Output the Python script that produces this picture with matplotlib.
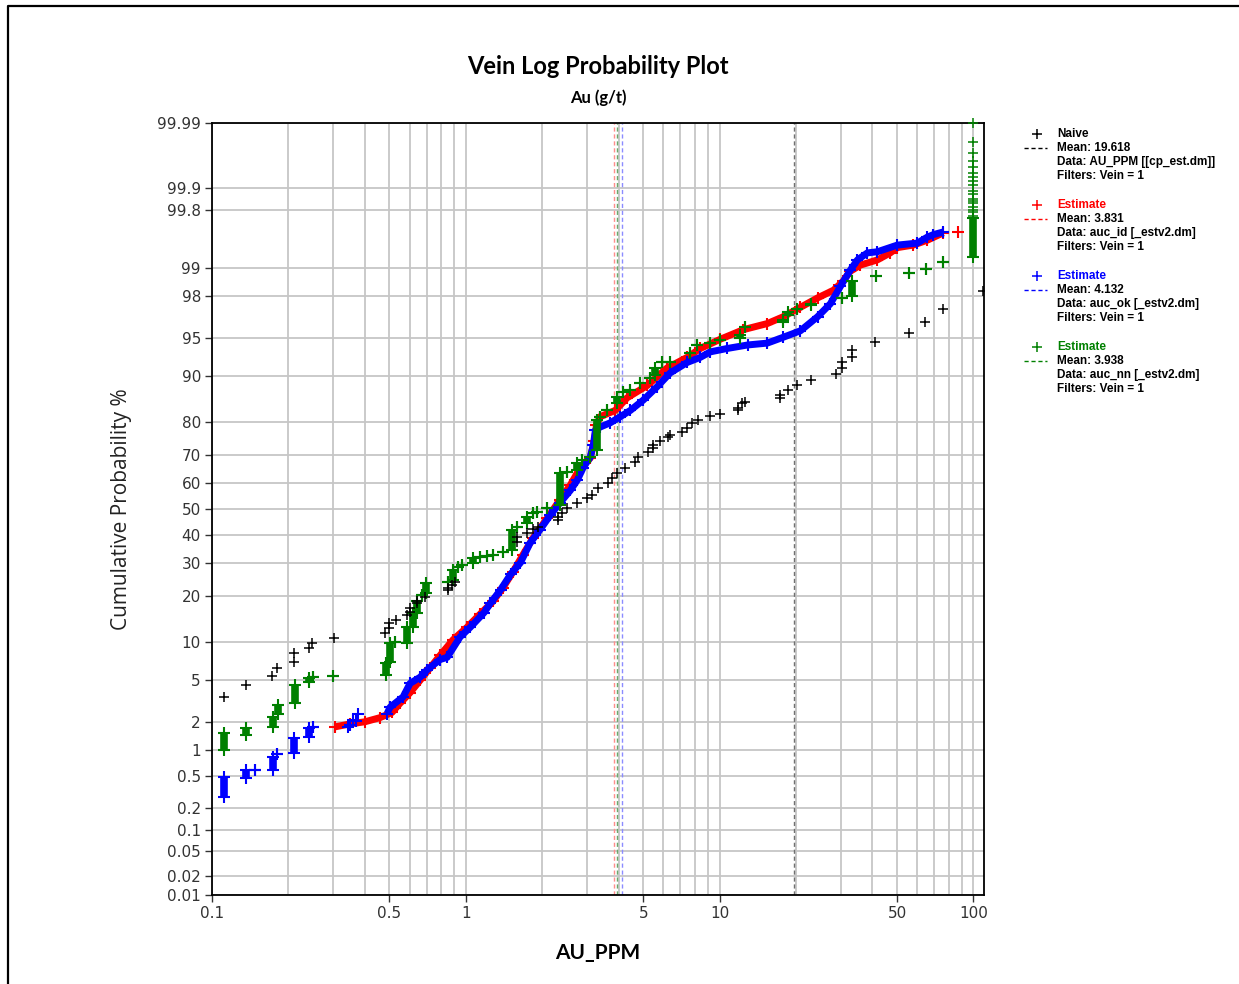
import matplotlib
matplotlib.use("Agg")
import matplotlib.pyplot as plt
from matplotlib.lines import Line2D
from matplotlib.ticker import FixedLocator, FixedFormatter, NullFormatter
import numpy as np
from statistics import NormalDist

# --- data: grade (g/t) vs cumulative probability (%) ---
naive_x = [0.1115, 0.136, 0.172, 0.180, 0.210, 0.210, 0.241, 0.248, 0.303, 0.481,
           0.499, 0.499, 0.531, 0.587, 0.603, 0.603, 0.643, 0.643, 0.691, 0.851,
           0.851, 0.883, 0.907, 1.59, 1.59, 1.74, 1.84, 1.93, 2.31, 2.31,
           2.40, 2.51, 2.75, 3.01, 3.15, 3.32, 3.64, 3.78, 3.95, 4.25,
           4.65, 4.78, 5.23, 5.47, 5.47, 5.83, 6.27, 6.38, 7.12, 7.45,
           7.80, 8.24, 9.19, 10.05, 11.8, 11.8, 12.3, 12.6, 17.3, 17.3,
           18.6, 20.2, 22.8, 28.6, 30.4, 30.4, 33.3, 33.3, 41.0, 55.9,
           64.6, 76.0, 109.4]
naive_p = [3.51, 4.46, 5.37, 6.30, 7.08, 8.23, 9.01, 9.85, 10.7, 11.7,
           12.5, 13.6, 14.2, 15.4, 16.1, 17.1, 18.2, 18.9, 19.8, 21.8,
           22.4, 23.3, 24.2, 37.4, 39.4, 40.9, 42.5, 43.2, 45.6, 46.8,
           48.4, 50.4, 52.4, 54.4, 55.2, 57.9, 59.9, 61.8, 63.7, 65.5,
           67.4, 69.1, 70.9, 72.2, 73.2, 74.5, 75.5, 76.1, 77.0, 78.2,
           79.7, 80.5, 81.6, 82.1, 82.9, 83.4, 84.6, 84.8, 85.8, 86.4,
           87.5, 88.3, 89.3, 90.3, 91.3, 92.1, 92.8, 93.7, 94.6, 95.5,
           96.4, 97.3, 98.2]

id_x = [0.305, 0.350, 0.401, 0.459, 0.512, 0.551, 0.603, 0.661, 0.723, 0.792,
        0.891, 1.01, 1.14, 1.28, 1.40, 1.53, 1.68, 1.84, 2.09, 2.35,
        2.58, 2.82, 3.09, 3.21, 3.27, 3.38, 3.88, 4.32, 5.19, 6.21,
        7.45, 8.39, 10.05, 12.4, 15.4, 17.8, 20.8, 24.3, 28.1, 30.7,
        32.7, 35.8, 41.8, 47.0, 50.1, 57.9, 65.8, 76.0]
id_p = [1.79, 1.92, 2.02, 2.22, 2.50, 3.07, 3.84, 4.95, 6.30, 7.93,
        10.4, 12.7, 15.6, 18.7, 22.4, 27.1, 33.0, 39.0, 46.4, 53.6,
        59.1, 65.4, 68.8, 74.5, 79.1, 81.3, 82.9, 85.8, 88.3, 91.3,
        92.8, 93.9, 94.9, 95.8, 96.3, 96.8, 97.4, 97.9, 98.25, 98.6,
        98.9, 99.06, 99.18, 99.32, 99.41, 99.45, 99.52, 99.61]
id_single_x = [87.1]
id_single_p = [99.62]

ok_x = [0.490, 0.503, 0.566, 0.603, 0.661, 0.704, 0.792,
        0.844, 0.950, 1.04, 1.18, 1.25, 1.37, 1.50, 1.64, 1.79, 1.96,
        2.15, 2.35, 2.58, 2.75, 2.90, 3.09, 3.18, 3.24, 3.38, 3.71,
        4.06, 4.45, 5.00, 5.68, 6.38, 7.45, 8.39, 9.19, 10.7, 12.9,
        15.4, 17.8, 20.8, 24.3, 27.3, 29.9, 32.7, 34.9, 38.2, 41.8,
        50.1, 60.1, 65.8, 69.5, 76.0]
ok_p = [2.44, 2.81, 3.51, 4.65, 5.26, 6.06, 7.35,
        7.64, 10.9, 12.7, 15.9, 18.2, 21.8, 26.4, 30.2, 37.1, 42.1,
        47.6, 52.4, 57.1, 61.0, 65.5, 69.1, 73.2, 77.6, 78.5, 79.7,
        81.3, 82.9, 85.3, 88.1, 90.5, 92.1, 92.8, 93.5, 93.9, 94.3,
        94.5, 95.1, 95.7, 96.8, 97.6, 98.4, 98.93, 99.18, 99.32, 99.34,
        99.45, 99.48, 99.56, 99.59, 99.62]
ok_cluster_x = [0.344, 0.350, 0.360, 0.368, 0.376]
ok_cluster_p = [1.79, 1.85, 2.12, 2.05, 2.39]
# tied low grades (one column per value)
ok_tie_x = [0.1115, 0.136, 0.148, 0.174, 0.180, 0.2105, 0.241, 0.250]
ok_tie_lo = [0.28, 0.48, 0.60, 0.60, 0.91, 0.94, 1.39, 1.79]
ok_tie_hi = [0.49, 0.60, 0.60, 0.84, 0.91, 1.36, 1.74, 1.79]

nn_tie_x = [0.1115, 0.136, 0.174, 0.182, 0.212, 0.241, 0.250, 0.300, 0.485, 0.503,
            0.526, 0.587, 0.620, 0.643, 0.672, 0.697, 0.851, 0.891, 0.933, 0.967,
            1.07, 1.14, 1.21, 1.28, 1.40, 1.52, 1.59, 1.74, 1.84, 1.91,
            2.09, 2.35, 2.51, 2.75, 2.87, 3.09, 3.30, 3.38, 3.61, 3.95,
            4.17, 4.45, 4.86, 5.32, 5.57, 5.94, 6.38, 7.66, 8.17, 9.19,
            10.05, 12.0, 12.6, 17.7, 18.6, 20.2, 22.8, 30.4, 33.3, 41.4,
            55.9, 65.2, 76.0, 100.0]
nn_tie_lo = [1.02, 1.46, 1.79, 2.39, 3.07, 4.75, 5.26, 5.37, 5.48, 7.08,
             10.0, 9.85, 12.7, 15.9, 20.3, 20.9, 24.2, 24.8, 28.8, 29.5,
             30.2, 32.3, 32.6, 33.0, 34.1, 34.8, 43.2, 44.8, 48.4, 48.8,
             50.4, 51.6, 64.1, 64.8, 68.1, 69.1, 71.6, 81.1, 82.9, 84.6,
             87.1, 87.5, 88.7, 89.6, 90.1, 92.1, 92.1, 93.3, 94.3, 94.5,
             94.8, 95.05, 96.0, 96.4, 96.9, 97.3, 97.55, 97.9, 98.0, 98.75,
             98.84, 98.96, 99.13, 99.25]
nn_tie_hi = [1.54, 1.74, 2.27, 2.94, 4.46, 5.16, 5.26, 5.37, 6.94, 9.85,
             10.0, 12.7, 15.9, 18.9, 20.3, 23.9, 24.2, 27.8, 28.8, 29.5,
             31.9, 32.3, 32.6, 33.0, 34.1, 42.1, 43.2, 46.8, 48.4, 48.8,
             50.4, 63.7, 64.1, 67.0, 68.1, 69.1, 80.5, 81.1, 82.9, 86.0,
             87.1, 87.5, 88.7, 89.6, 91.3, 92.1, 92.1, 93.3, 94.3, 94.5,
             94.8, 95.35, 96.0, 96.6, 97.1, 97.3, 97.6, 97.9, 98.6, 98.75,
             98.84, 98.96, 99.13, 99.75]
# top tail of capped values at 100 g/t
nn_cap_x = 100.0
nn_cap_p = [99.76, 99.79, 99.80, 99.82, 99.84, 99.85, 99.86, 99.88, 99.89, 99.91,
            99.92, 99.93, 99.94, 99.95, 99.96, 99.97, 99.98, 99.99]

legend_entries = [
    ("Naive", "black", 19.618, "AU_PPM [[cp_est.dm]]"),
    ("Estimate", "red", 3.831, "auc_id [_estv2.dm]"),
    ("Estimate", "blue", 4.132, "auc_ok [_estv2.dm]"),
    ("Estimate", "green", 3.938, "auc_nn [_estv2.dm]"),
]
mean_line_colors = ["#707070", "#ff8c8c", "#8c8cff", "#6aa86a"]

y_ticks = [0.01, 0.02, 0.05, 0.1, 0.2, 0.5, 1, 2, 5, 10, 20, 30, 40, 50,
           60, 70, 80, 90, 95, 98, 99, 99.8, 99.9, 99.99]
x_ticks = [0.1, 0.5, 1, 5, 10, 50, 100]
x_grid = [0.1, 0.2, 0.3, 0.4, 0.5, 0.6, 0.7, 0.8, 0.9,
          1, 2, 3, 4, 5, 6, 7, 8, 9, 10, 20, 30, 40, 50, 60, 70, 80, 90, 100]

_nd = NormalDist()


def prob_fwd(p):
    a = np.clip(np.asarray(p, dtype=float) / 100.0, 1e-9, 1 - 1e-9)
    out = [_nd.inv_cdf(v) if np.isfinite(v) else np.nan for v in a.ravel()]
    return np.array(out, dtype=float).reshape(a.shape)


def prob_inv(z):
    a = np.asarray(z, dtype=float)
    out = [_nd.cdf(v) * 100.0 if np.isfinite(v) else np.nan for v in a.ravel()]
    return np.array(out, dtype=float).reshape(a.shape)


W, H = 1239, 984
fig = plt.figure(figsize=(W / 100, H / 100), dpi=100)
ax = fig.add_axes([212 / W, 1 - 895 / H, (984 - 212) / W, (895 - 123) / H])
ax.set_xscale("log")
ax.set_yscale("function", functions=(prob_fwd, prob_inv))
ax.set_xlim(0.1, 110)
ax.set_ylim(0.01, 99.99)

grid_c = "#c6c6c6"
ax.xaxis.set_major_locator(FixedLocator(x_ticks))
ax.xaxis.set_major_formatter(FixedFormatter([str(v) for v in x_ticks]))
ax.xaxis.set_minor_locator(FixedLocator(x_grid))
ax.xaxis.set_minor_formatter(NullFormatter())
ax.yaxis.set_major_locator(FixedLocator(y_ticks))
ax.yaxis.set_major_formatter(FixedFormatter([f"{v:g}" for v in y_ticks]))
ax.yaxis.set_minor_locator(FixedLocator([]))
ax.grid(True, which="both", axis="x", color=grid_c, lw=1.3)
ax.grid(True, which="major", axis="y", color=grid_c, lw=1.3)
ax.set_axisbelow(True)
ax.tick_params(which="major", length=5, width=1, color="#333333",
               labelsize=11, labelcolor="#333333", pad=3)
ax.tick_params(which="minor", length=0)
for s in ax.spines.values():
    s.set_color("black")
    s.set_linewidth(1.3)

# mean lines
for (name, col, mean, src), lc in zip(legend_entries, mean_line_colors):
    ax.axvline(mean, color=lc, lw=1.0, ls=(0, (3, 2)), zorder=2)

band = 5.0
mk = dict(marker="+", ls="none", ms=8.5, mew=1.5)
# inverse distance estimate
ax.plot(id_x, id_p, color="red", lw=band, solid_capstyle="butt", zorder=3)
ax.plot(id_x, id_p, color="red", zorder=3, **mk)
ax.plot(id_single_x, id_single_p, color="red", zorder=3, **mk)

# ordinary kriging estimate
ax.plot(ok_x, ok_p, color="blue", lw=band, solid_capstyle="butt", zorder=4)
ax.plot(ok_x, ok_p, color="blue", zorder=4, **mk)
ax.plot(ok_cluster_x, ok_cluster_p, color="blue", zorder=4, **mk)
ax.vlines(ok_tie_x, ok_tie_lo, ok_tie_hi, color="blue", lw=band + 0.5, zorder=4)
ax.plot(ok_tie_x + ok_tie_x, ok_tie_lo + ok_tie_hi, color="blue", zorder=4, **mk)

# nearest neighbour estimate
ax.vlines(nn_tie_x, nn_tie_lo, nn_tie_hi, color="green", lw=band + 0.5, zorder=5)
ax.plot(nn_tie_x + nn_tie_x, nn_tie_lo + nn_tie_hi, color="green", zorder=5, **mk)
ax.plot([nn_cap_x] * len(nn_cap_p), nn_cap_p, "+", color="green",
        ms=7, mew=1.1, zorder=5, clip_on=False)

# naive composites
ax.plot(naive_x, naive_p, "+", color="black", ms=7, mew=1.1, zorder=6)

# titles and axis labels
fig.text(598 / W, 1 - 67 / H, "Vein Log Probability Plot", ha="center",
         va="center", fontsize=17, fontweight="bold", family="Lato")
fig.text(598 / W, 1 - 98 / H, "Au (g/t)", ha="center", va="center",
         fontsize=12, fontweight="bold", family="Lato")
fig.text(598 / W, 1 - 953 / H, "AU_PPM", ha="center", va="center",
         fontsize=15, fontweight="bold", family="Lato")
fig.text(122 / W, 1 - 509 / H, "Cumulative Probability %", ha="center",
         va="center", rotation=90, fontsize=15, family="Open Sans",
         color="#222222")

# legend block
for i, (name, col, mean, src) in enumerate(legend_entries):
    top = 134 + 71 * i
    fig.add_artist(Line2D([1037 / W], [1 - top / H], marker="+", color=col,
                          ms=7, mew=1.1, transform=fig.transFigure))
    fig.add_artist(Line2D([1024 / W, 1047 / W], [1 - (top + 14) / H] * 2,
                          color=col, lw=1.0, ls=(0, (3, 2)),
                          transform=fig.transFigure))
    rows = [(name, col), (f"Mean: {mean:.3f}", "black"),
            (f"Data: {src}", "black"), ("Filters: Vein = 1", "black")]
    for j, (txt, tc) in enumerate(rows):
        fig.text(1057 / W, 1 - (top + 14 * j) / H, txt, ha="left",
                 va="center", fontsize=8.5, fontweight="bold",
                 family="Liberation Sans", color=tc)

# page frame
fig.add_artist(Line2D([8 / W, 8 / W, 1.0], [0.0, 1 - 6 / H, 1 - 6 / H],
                      color="black", lw=1.6, transform=fig.transFigure))

fig.savefig("out.png", dpi=100)
